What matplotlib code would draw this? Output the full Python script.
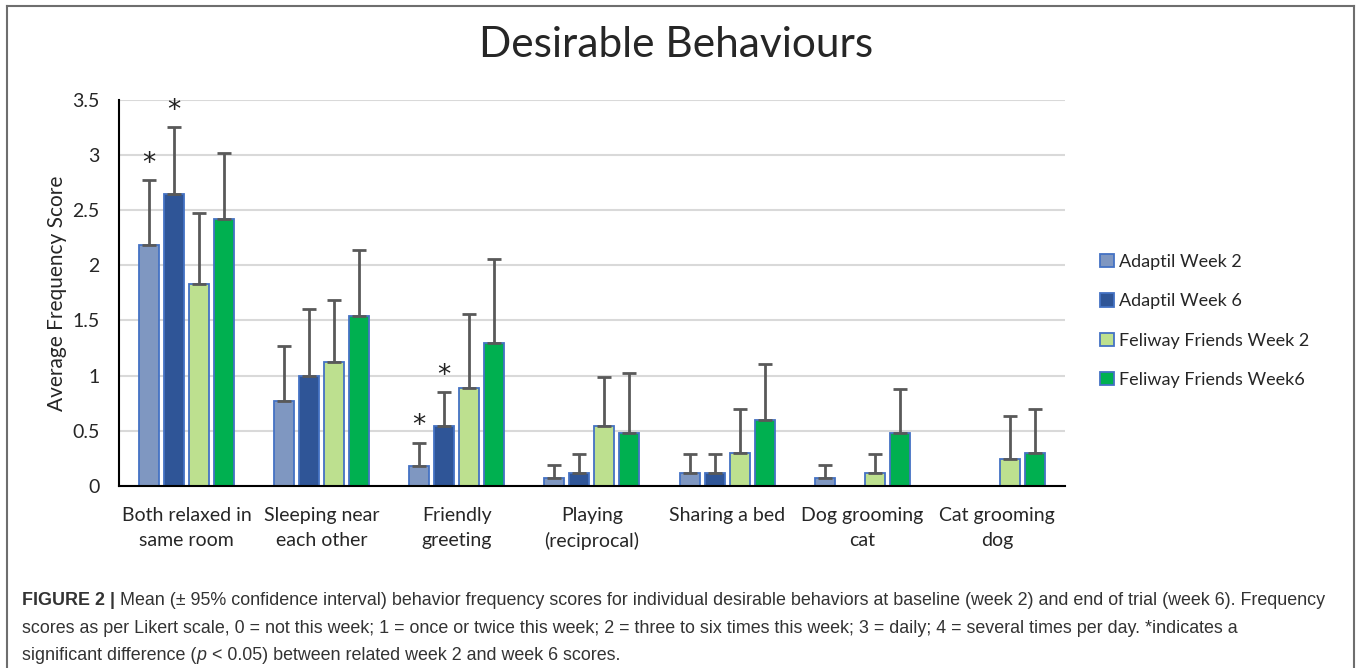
import numpy as np
import matplotlib
matplotlib.use("Agg")
import matplotlib.pyplot as plt
from matplotlib.patches import Patch
from matplotlib.lines import Line2D

# categories and series (mean scores, upper 95% CI limit)
behaviours = ["Both relaxed in\nsame room", "Sleeping near\neach other",
              "Friendly\ngreeting", "Playing\n(reciprocal)", "Sharing a bed",
              "Dog grooming\ncat", "Cat grooming\ndog"]
series_names = ["Adaptil Week 2", "Adaptil Week 6",
                "Feliway Friends Week 2", "Feliway Friends Week6"]

adaptil_w2 = [2.18, 0.77, 0.18, 0.07, 0.12, 0.07, np.nan]
adaptil_w6 = [2.65, 1.00, 0.54, 0.12, 0.12, np.nan, np.nan]
feliway_w2 = [1.83, 1.12, 0.89, 0.54, 0.30, 0.12, 0.24]
feliway_w6 = [2.42, 1.54, 1.30, 0.48, 0.60, 0.48, 0.30]

adaptil_w2_hi = [2.77, 1.27, 0.39, 0.19, 0.29, 0.19, np.nan]
adaptil_w6_hi = [3.25, 1.60, 0.85, 0.29, 0.29, np.nan, np.nan]
feliway_w2_hi = [2.47, 1.69, 1.56, 0.99, 0.70, 0.29, 0.63]
feliway_w6_hi = [3.02, 2.14, 2.06, 1.02, 1.11, 0.88, 0.70]

# significant week2 vs week6 differences (series index, category index)
significant = [(0, 0), (1, 0), (0, 2), (1, 2)]

colors = ["#7F97C1", "#2F5597", "#BDE08F", "#00B050"]
edge = "#4472C4"

plt.rcParams['font.family'] = ['Lato', 'DejaVu Sans']

fig = plt.figure(figsize=(13.57, 6.68), dpi=100)
ax = fig.add_axes([0.0877, 0.2725, 0.697, 0.578])

means = [adaptil_w2, adaptil_w6, feliway_w2, feliway_w6]
highs = [adaptil_w2_hi, adaptil_w6_hi, feliway_w2_hi, feliway_w6_hi]
x = np.arange(len(behaviours))
step = 0.185
width = 0.148

for i in range(4):
    m = np.array(means[i], dtype=float)
    hi = np.array(highs[i], dtype=float)
    pos = x + (i - 1.5) * step
    ax.bar(pos, m, width, color=colors[i], edgecolor=edge, linewidth=1.3,
           label=series_names[i], zorder=2)
    ax.errorbar(pos, m, yerr=[np.zeros_like(m), hi - m], fmt='none',
                ecolor="#595959", elinewidth=2, capsize=5, capthick=2, zorder=3)

for s, c in significant:
    ax.annotate("*", (x[c] + (s - 1.5) * step, highs[s][c]),
                xytext=(0, 12), textcoords="offset points",
                ha="center", va="center", fontsize=19, color="#222222",
                family="DejaVu Sans")

ax.set_xlim(-0.5, len(behaviours) - 0.5)
ax.set_ylim(0, 3.5)
ax.set_yticks(np.arange(0, 3.51, 0.5))
ax.set_yticklabels(["0", "0.5", "1", "1.5", "2", "2.5", "3", "3.5"])
ax.set_xticks(x)
ax.set_xticklabels(behaviours, fontsize=14, color="#262626", linespacing=1.55)
ax.tick_params(axis='y', labelsize=14, labelcolor="#262626", length=0, pad=14)
ax.tick_params(axis='x', length=0, pad=15)
ax.yaxis.grid(True, color="#D9D9D9", linewidth=1.5, zorder=0)
ax.set_axisbelow(True)
for side in ["top", "right"]:
    ax.spines[side].set_visible(False)
ax.spines["left"].set_linewidth(1.5)
ax.spines["bottom"].set_linewidth(1.5)
ax.set_ylabel("Average Frequency Score", fontsize=15, color="#262626", labelpad=4)

fig.text(0.4985, 0.932, "Desirable Behaviours", ha="center", va="center",
         fontsize=30.5, color="#262626")

handles = [Patch(facecolor=colors[i], edgecolor=edge, linewidth=1.3)
           for i in range(4)]
fig.legend(handles, series_names, loc="upper left",
           bbox_to_anchor=(0.799, 0.6445), frameon=False, fontsize=13,
           handlelength=0.75, handleheight=0.75, handletextpad=0.3,
           labelspacing=1.3, labelcolor="#262626")

# outer frame
frame_kw = dict(color="#6E6E6E", linewidth=1.5, transform=fig.transFigure)
fig.add_artist(Line2D([0.0055, 0.0055], [0, 0.991], **frame_kw))
fig.add_artist(Line2D([0.0055, 0.9975], [0.991, 0.991], **frame_kw))
fig.add_artist(Line2D([0.9975, 0.9975], [0, 0.991], **frame_kw))

# caption
cap = dict(fontsize=12.9, color="#333333", va="bottom",
           family=['Liberation Sans', 'DejaVu Sans'])
t = fig.text(0.0165, 1 - 609 / 668, "FIGURE 2 | ", weight="bold", **cap)
ax.annotate("Mean (\u00b1 95% confidence interval) behavior frequency scores "
            "for individual desirable behaviors at baseline (week 2) and end "
            "of trial (week 6). Frequency",
            xy=(1, 0), xycoords=t, **cap)
fig.text(0.0165, 1 - 637 / 668,
         "scores as per Likert scale, 0 = not this week; 1 = once or twice this "
         "week; 2 = three to six times this week; 3 = daily; 4 = several times "
         "per day. *indicates a", **cap)
t3 = fig.text(0.0165, 1 - 664 / 668, "significant difference (", **cap)
t4 = ax.annotate("p", xy=(1, 0), xycoords=t3, style="italic", **cap)
ax.annotate(" < 0.05) between related week 2 and week 6 scores.",
            xy=(1, 0), xycoords=t4, **cap)

fig.savefig("out.png", dpi=100)
